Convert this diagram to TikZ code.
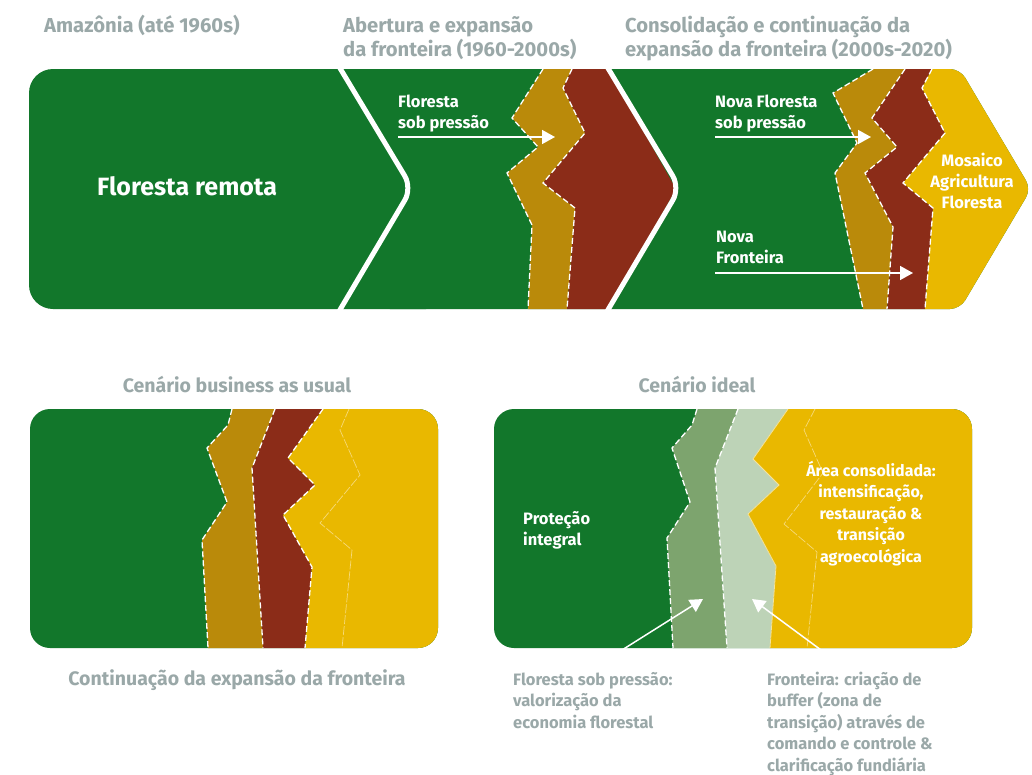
\documentclass[tikz,border=0pt]{standalone}
\usepackage{fontspec}
\setmainfont{Fira Sans}
\usetikzlibrary{arrows.meta}
\definecolor{fgreen}{HTML}{12772B}
\definecolor{fgold}{HTML}{BA8A0A}
\definecolor{fred}{HTML}{8B2C18}
\definecolor{fyellow}{HTML}{E9B800}
\definecolor{fmid}{HTML}{7DA46E}
\definecolor{flight}{HTML}{BDD3B7}
\definecolor{fgray}{HTML}{9AA8A8}
\definecolor{ffaint}{HTML}{F6DA7A}
\begin{document}
\begin{tikzpicture}[x=1pt,y=-1pt,
  title/.style={text=fgray, font=\fontsize{20.2}{24}\selectfont\bfseries, inner sep=0pt, align=left, anchor=base west},
  ctitle/.style={text=fgray, font=\fontsize{19.5}{24}\selectfont\bfseries, inner sep=0pt, anchor=base},
  wlabel/.style={text=white, font=\fontsize{16.5}{21}\selectfont\bfseries, inner sep=0pt, align=left, anchor=base west},
  glabel/.style={text=fgray, font=\fontsize{16.5}{21.5}\selectfont\bfseries, inner sep=0pt, align=left, anchor=base west},
  bandline/.style={draw=white, line width=1.3pt, dash pattern=on 6pt off 3pt},
  faintline/.style={draw=ffaint, line width=0.7pt, dash pattern=on 9pt off 2pt},
  separator/.style={draw=white, line width=5pt, rounded corners=14},
  warrow/.style={draw=white, line width=1.5pt, -{Triangle[length=13pt,width=14pt]}}]
\useasboundingbox[fill=white] (0,0) rectangle (1032,774);

% ---------------- top strip ----------------
\fill[fgreen, rounded corners=24] (29,69) rectangle (450,309);
\fill[fgreen, rounded corners=10] (380,69) -- (960,69) -- (1031,189) -- (960,309) -- (380,309) -- cycle;

% segment 2 bands
\fill[fgold] (543,69) -- (512,118) -- (538,147) -- (507,173) -- (532,225) -- (528,309)
  -- (567,309) -- (575,208) -- (543,183) -- (585,133) -- (563,88) -- (572,69) -- cycle;
\fill[fred] (572,69) -- (563,88) -- (585,133) -- (543,183) -- (575,208) -- (567,309)
  -- (608,309) -- (676,189) -- (608,69) -- cycle;
\draw[bandline] (543,69) -- (512,118) -- (538,147) -- (507,173) -- (532,225) -- (528,309);
\draw[bandline] (572,69) -- (563,88) -- (585,133) -- (543,183) -- (575,208) -- (567,309);

% segment 3 bands
\begin{scope}
\clip[rounded corners=10] (700,69) -- (960,69) -- (1031,189) -- (960,309) -- (700,309) -- cycle;
\fill[fgold] (873,69) -- (833,93) -- (857,143) -- (835,173) -- (863,309)
  -- (887,309) -- (893,227) -- (865,173) -- (897,147) -- (872,118) -- (905,69) -- cycle;
\fill[fred] (905,69) -- (872,118) -- (897,147) -- (865,173) -- (893,227) -- (887,309)
  -- (925,309) -- (933,208) -- (903,183) -- (945,133) -- (922,88) -- (932,69) -- cycle;
\fill[fyellow] (932,69) -- (922,88) -- (945,133) -- (903,183) -- (933,208) -- (925,309)
  -- (1040,309) -- (1040,69) -- cycle;
\end{scope}
\draw[bandline] (873,69) -- (833,93) -- (857,143) -- (835,173) -- (863,309);
\draw[bandline] (905,69) -- (872,118) -- (897,147) -- (865,173) -- (893,227) -- (887,309);
\draw[bandline] (932,69) -- (922,88) -- (945,133) -- (903,183) -- (933,208) -- (925,309);

% separators
\draw[separator] (337.5,64) -- (412,188) -- (337.5,314);
\draw[separator] (605.5,64) -- (680,188) -- (605.5,314);

% top labels
\node[title] (amaz) at (44,32) {Amazônia (até 1960s)};
\node[title] (aber) at (343,56) {Abertura e expansão\\da fronteira (1960-2000s)};
\node[title] (cons) at (625,56) {Consolidação e continuação da\\expansão da fronteira (2000s-2020)};
\node[text=white, font=\fontsize{25}{30}\selectfont\bfseries, inner sep=0pt, anchor=base west] (remota) at (97,195) {Floresta remota};
\node[wlabel] (fsp) at (398,128) {Floresta\\sob pressão};
\node[wlabel] (nfsp) at (715,128) {Nova Floresta\\sob pressão};
\node[wlabel] (nf) at (716,263) {Nova\\Fronteira};
\node[wlabel, align=center, anchor=base] (mos) at (972,208) {Mosaico\\Agricultura\\Floresta};

\coordinate (a1s) at (398,137); \coordinate (a1e) at (555,137);
\coordinate (a2s) at (715,137); \coordinate (a2e) at (871,137);
\coordinate (a3s) at (715,273); \coordinate (a3e) at (913,273);
\draw[warrow] (a1s) -- (a1e);
\draw[warrow] (a2s) -- (a2e);
\draw[warrow] (a3s) -- (a3e);

% ---------------- bottom left: business as usual ----------------
\fill[fgreen, rounded corners=20] (30,409) rectangle (438,648);
\begin{scope}
\clip[rounded corners=20] (30,409) rectangle (438,648);
\fill[fgold] (232,409) -- (228,425) -- (207,448) -- (227,502) -- (202,540) -- (208,648)
  -- (263,648) -- (252,468) -- (275,409) -- cycle;
\fill[fred] (275,409) -- (252,468) -- (263,648)
  -- (305,648) -- (312,567) -- (283,515) -- (315,485) -- (288,458) -- (323,409) -- cycle;
\fill[fyellow] (323,409) -- (288,458) -- (315,485) -- (283,515) -- (312,567) -- (305,648)
  -- (450,648) -- (450,409) -- cycle;
\draw[faintline] (349,409) -- (340,430) -- (360,475) -- (320,523) -- (352,550) -- (342,648);
\end{scope}
\draw[bandline] (232,409) -- (228,425) -- (207,448) -- (227,502) -- (202,540) -- (208,648);
\draw[bandline] (275,409) -- (252,468) -- (263,648);
\draw[bandline] (323,409) -- (288,458) -- (315,485) -- (283,515) -- (312,567) -- (305,648);

\node[ctitle] (bau) at (237,392) {Cenário business as usual};
\node[ctitle] (cont) at (237,685) {Continuação da expansão da fronteira};

% ---------------- bottom right: ideal ----------------
\fill[fgreen, rounded corners=20] (494,409) rectangle (972,648);
\begin{scope}
\clip[rounded corners=20] (494,409) rectangle (972,648);
\fill[fmid] (697,409) -- (692,425) -- (672,448) -- (690,502) -- (667,538) -- (673,648)
  -- (727,648) -- (715,468) -- (738,409) -- cycle;
\fill[flight] (738,409) -- (715,468) -- (727,648)
  -- (770,648) -- (776,566) -- (748,514) -- (779,485) -- (753,459) -- (788,409) -- cycle;
\fill[fyellow] (788,409) -- (753,459) -- (779,485) -- (748,514) -- (776,566) -- (770,648)
  -- (985,648) -- (985,409) -- cycle;
\draw[faintline] (815,409) -- (804,430) -- (823,473) -- (784,524) -- (817,552) -- (807,648);
\end{scope}
\draw[bandline] (697,409) -- (692,425) -- (672,448) -- (690,502) -- (667,538) -- (673,648);
\draw[bandline] (738,409) -- (715,468) -- (727,648);
\draw[draw=white!60!fyellow, line width=0.8pt] (788,409) -- (753,459) -- (779,485) -- (748,514) -- (776,566) -- (770,648);

\node[ctitle] (ideal) at (697,392) {Cenário ideal};
\node[wlabel] (prot) at (523,545) {Proteção\\integral};
\node[wlabel, align=center, anchor=base, font=\fontsize{16}{21.5}\selectfont\bfseries] (area) at (871,562)
  {Área consolidada:\\intensificação,\\restauração \&\\transição\\agroecológica};

\node[glabel] (fspb) at (513,728) {Floresta sob pressão:\\valorização da\\economia florestal};
\node[glabel] (fronb) at (767,771) {Fronteira: criação de\\buffer (zona de\\transição) através de\\comando e controle \&\\clarificação fundiária};

\coordinate (b1s) at (622,650); \coordinate (b1e) at (703,599);
\coordinate (b2s) at (821,650); \coordinate (b2e) at (752,599);
\draw[warrow] (b1s) -- (b1e);
\draw[warrow] (b2s) -- (b2e);
\end{tikzpicture}
\end{document}
